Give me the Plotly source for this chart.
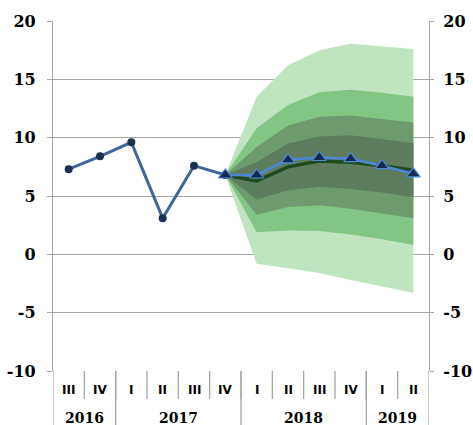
import plotly.graph_objects as go

quarters = ["III", "IV", "I", "II", "III", "IV", "I", "II", "III", "IV", "I", "II"]
years = ["2016", "2017", "2018", "2019"]
year_counts = [2, 4, 4, 2]

hist_vals = [7.3, 8.4, 9.6, 3.1, 7.6, 6.8]
fc_start = 5
forecast_vals = [6.8, 6.8, 8.1, 8.3, 8.2, 7.6, 6.9]
central_vals = [6.8, 6.3, 7.5, 8.0, 7.9, 7.6, 7.2]

band90_lo = [6.8, -0.8, -1.2, -1.6, -2.2, -2.75, -3.3]
band90_hi = [6.8, 13.5, 16.2, 17.5, 18.05, 17.8, 17.6]
band70_lo = [6.8, 1.9, 2.05, 2.0, 1.7, 1.3, 0.8]
band70_hi = [6.8, 10.8, 12.8, 13.9, 14.1, 13.85, 13.5]
band50_lo = [6.8, 3.4, 4.05, 4.2, 3.9, 3.5, 3.1]
band50_hi = [6.8, 9.2, 11.05, 11.8, 11.9, 11.6, 11.3]
band30_lo = [6.8, 4.7, 5.5, 5.8, 5.6, 5.3, 4.9]
band30_hi = [6.8, 7.9, 9.5, 10.1, 10.2, 9.9, 9.55]

y_ticks = [-10, -5, 0, 5, 10, 15, 20]
y_ticktext = ["-10", "-5", "0", "5", "10", "15", "20"]

band_colors = ["#c0e3c0", "#82c684", "#6e9a6f", "#5e7c5e"]
bands = [(band90_lo, band90_hi), (band70_lo, band70_hi),
         (band50_lo, band50_hi), (band30_lo, band30_hi)]

x_all = list(range(len(quarters)))
x_hist = x_all[:len(hist_vals)]
x_fc = x_all[fc_start:fc_start + len(forecast_vals)]

fig = go.Figure()

for (lo, hi), col in zip(bands, band_colors):
    fig.add_trace(go.Scatter(x=x_fc, y=lo, mode="lines", line=dict(width=0, color=col),
                             hoverinfo="skip", showlegend=False))
    fig.add_trace(go.Scatter(x=x_fc, y=hi, mode="lines", line=dict(width=0, color=col),
                             fill="tonexty", fillcolor=col, hoverinfo="skip", showlegend=False))

fig.add_trace(go.Scatter(x=x_fc, y=central_vals, mode="lines",
                         line=dict(color="#1f4a1f", width=3.5), showlegend=False))
fig.add_trace(go.Scatter(x=x_hist, y=hist_vals, mode="lines+markers",
                         line=dict(color="#41679a", width=3),
                         marker=dict(color="#1b2f4f", size=8), showlegend=False))
fig.add_trace(go.Scatter(x=x_fc, y=forecast_vals, mode="lines+markers",
                         line=dict(color="#4a8ad4", width=2.5),
                         marker=dict(symbol="triangle-up", color="#17294d", size=12,
                                     line=dict(color="#4a8ad4", width=1.2)),
                         showlegend=False))
# invisible trace to carry the right axis
fig.add_trace(go.Scatter(x=[x_all[0]], y=[y_ticks[0]], yaxis="y2", mode="markers",
                         marker=dict(opacity=0), hoverinfo="skip", showlegend=False))

axis_font = dict(family="DejaVu Serif", size=16, color="#000000", weight="bold")
grid_col = "#a6a6a6"

fig.update_layout(
    width=473, height=425,
    margin=dict(l=53, r=44, t=21, b=54, autoexpand=False),
    paper_bgcolor="white", plot_bgcolor="white",
    xaxis=dict(range=[-0.5, len(quarters) - 0.5], showticklabels=False, showgrid=False,
               zeroline=False, showline=False, ticks="", automargin=False),
    yaxis=dict(range=[-10, 20], tickvals=y_ticks, ticktext=y_ticktext, showgrid=True,
               gridcolor=grid_col, gridwidth=1.3, zeroline=False, showline=True,
               linecolor=grid_col, linewidth=1.3, ticks="outside", ticklen=5,
               tickcolor=grid_col, tickfont=axis_font, ticklabelstandoff=8, automargin=False),
    yaxis2=dict(range=[-10, 20], tickvals=y_ticks, ticktext=y_ticktext, overlaying="y",
                side="right", showgrid=False, zeroline=False, showline=True,
                linecolor=grid_col, linewidth=1.3, ticks="outside", ticklen=4,
                tickcolor=grid_col, tickfont=axis_font, ticklabelstandoff=6, automargin=False),
)

# quarter labels and dividers
for i, q in enumerate(quarters):
    fig.add_annotation(x=i, y=-0.054, xref="x", yref="paper", yanchor="middle",
                       xanchor="center", text=q, showarrow=False,
                       font=dict(family="DejaVu Sans", size=12, color="#000000", weight="bold"))
for i in range(1, len(quarters)):
    fig.add_shape(type="line", x0=i - 0.5, x1=i - 0.5, y0=0, y1=-0.08, xref="x", yref="paper",
                  line=dict(color=grid_col, width=1.3))

# year labels and dividers
start = 0
bounds = [start - 0.5]
for yr, n in zip(years, year_counts):
    center = start + (n - 1) / 2
    fig.add_annotation(x=center, y=-0.134, xref="x", yref="paper", yanchor="middle",
                       xanchor="center", text=yr, showarrow=False,
                       font=dict(family="DejaVu Serif", size=14, color="#000000", weight="bold"))
    start += n
    bounds.append(start - 0.5)
for b in bounds:
    fig.add_shape(type="line", x0=b, x1=b, y0=0, y1=-0.155, xref="x", yref="paper",
                  line=dict(color=grid_col, width=1.3))

fig.write_html("out.html", config={"displayModeBar": False},
               post_script="document.body.style.margin='0';document.body.style.overflow='hidden';")
